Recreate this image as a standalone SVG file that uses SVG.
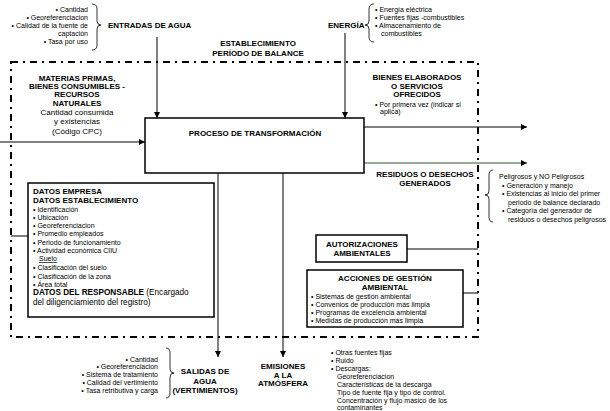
<svg xmlns="http://www.w3.org/2000/svg" width="610" height="411" viewBox="0 0 610 411">
<style>
text{font-family:"Liberation Sans",Arial,sans-serif;fill:#000}
.h{font-size:8px;font-weight:bold}
.n{font-size:8px}
.s{font-size:7px}
.c{text-anchor:middle}
.e{text-anchor:end}
.box{fill:#fff;stroke:#000;stroke-width:1.5}
.ln{fill:none;stroke:#000;stroke-width:1}
.br{fill:none;stroke:#000;stroke-width:0.8}
.border{fill:none;stroke:#000;stroke-width:2;stroke-dasharray:7 5 2 5}
</style>
<defs>
<marker id="ah" viewBox="0 0 10 10" refX="10" refY="5" markerWidth="6" markerHeight="6" orient="auto" markerUnits="userSpaceOnUse">
<path d="M0,0 L10,5 L0,10 Z" fill="#000"/>
</marker>
</defs>

<g id="border">
<rect class="border" x="11" y="62" width="467" height="275"/>
</g>

<g id="connectors">
<line class="ln" x1="157" y1="37" x2="157" y2="118" marker-end="url(#ah)"/>
<line class="ln" x1="345" y1="33" x2="345" y2="118" marker-end="url(#ah)"/>
<line class="ln" x1="0" y1="142" x2="145" y2="142" marker-end="url(#ah)"/>
<line class="ln" x1="364" y1="127" x2="527" y2="127" marker-end="url(#ah)"/>
<line class="ln" x1="364" y1="163" x2="527" y2="163" style="stroke:#2d5a27" marker-end="url(#ah)"/>
<line class="ln" x1="218" y1="173" x2="218" y2="357" marker-end="url(#ah)"/>
<line class="ln" x1="283" y1="173" x2="283" y2="357" marker-end="url(#ah)"/>
<line class="ln" x1="11" y1="236" x2="28" y2="236"/>
<line class="ln" x1="407" y1="249" x2="478" y2="249"/>
<line class="ln" x1="463" y1="293" x2="478" y2="293"/>
</g>

<g id="entradas">
<text class="s e" x="88" y="12">• Cantidad</text>
<text class="s e" x="88" y="20">• Georeferenciacion</text>
<text class="s e" x="88" y="28">• Calidad de la fuente de</text>
<text class="s e" x="88" y="36">captación</text>
<text class="s e" x="88" y="44">• Tasa por uso</text>
<path class="br" d="M92,4 Q97,4 97,9 L97,21 Q97,25 101,25 Q97,25 97,29 L97,45 Q97,50 92,50"/>
<text class="h" x="108" y="28">ENTRADAS DE AGUA</text>
</g>

<g id="energia">
<text class="h" x="328" y="28">ENERGÍA</text>
<path class="br" d="M374,4 Q369,4 369,9 L369,21 Q369,25 365,25 Q369,25 369,29 L369,37 Q369,42 374,42"/>
<text class="s" x="375" y="12">•  Energía eléctrica</text>
<text class="s" x="375" y="20">•  Fuentes fijas -combustibles</text>
<text class="s" x="375" y="28">•  Almacenamiento de</text>
<text class="s" x="381" y="36">combustibles</text>
</g>

<g id="establecimiento">
<text class="h c" x="258" y="46">ESTABLECIMIENTO</text>
<text class="h c" x="258" y="56">PERÍODO DE BALANCE</text>
</g>

<g id="materias">
<text class="h c" x="77" y="81">MATERIAS PRIMAS,</text>
<text class="h c" x="77" y="89">BIENES CONSUMIBLES -</text>
<text class="h c" x="77" y="97">RECURSOS</text>
<text class="h c" x="77" y="106">NATURALES</text>
<text class="n c" x="77" y="115">Cantidad consumida</text>
<text class="n c" x="77" y="124">y existencias</text>
<text class="n c" x="77" y="134">(Código CPC)</text>
</g>

<g id="proceso">
<rect class="box" x="145" y="118" width="219" height="55"/>
<text class="h c" x="255" y="136">PROCESO DE TRANSFORMACIÓN</text>
</g>

<g id="bienes">
<text class="h c" x="417" y="80">BIENES ELABORADOS</text>
<text class="h c" x="417" y="89">O SERVICIOS</text>
<text class="h c" x="417" y="97">OFRECIDOS</text>
<text class="s" x="375" y="107">•  Por primera vez (indicar si</text>
<text class="s" x="380" y="114">aplica)</text>
</g>

<g id="residuos">
<text class="h c" x="425" y="177">RESIDUOS O DESECHOS</text>
<text class="h c" x="425" y="186">GENERADOS</text>
<path class="br" d="M493,170 Q489,170 489,175 L489,191 Q489,195 485,195 Q489,195 489,199 L489,217 Q489,222 493,222"/>
<text class="s" x="499" y="179">Peligrosos y NO Peligrosos</text>
<text class="s" x="502" y="188">•  Generación y manejo</text>
<text class="s" x="502" y="196">•  Existencias  al  inicio  del  primer</text>
<text class="s" x="508" y="205">periodo de balance declarado</text>
<text class="s" x="502" y="213">•  Categoría   del   generador   de</text>
<text class="s" x="508" y="222">residuos o desechos peligrosos</text>
</g>

<g id="datos">
<rect class="box" x="28" y="183" width="186" height="134"/>
<text class="h" x="33" y="194">DATOS EMPRESA</text>
<text class="h" x="33" y="203">DATOS ESTABLECIMIENTO</text>
<text class="s" x="33" y="212">•  Identificación</text>
<text class="s" x="33" y="220">•  Ubicación</text>
<text class="s" x="33" y="228">•  Georeferenciacion</text>
<text class="s" x="33" y="236">•  Promedio empleados</text>
<text class="s" x="33" y="245">•  Periodo de funcionamiento</text>
<text class="s" x="33" y="253">•  Actividad económica CIIU</text>
<text class="s" x="39" y="261" text-decoration="underline">Suelo</text>
<text class="s" x="33" y="270">•  Clasificación del suelo</text>
<text class="s" x="33" y="279">•  Clasificación de la zona</text>
<text class="s" x="33" y="287">•  Área total</text>
<text x="33" y="295" style="font-size:8.2px"><tspan font-weight="bold">DATOS DEL RESPONSABLE</tspan> (Encargado</text>
<text x="33" y="305" style="font-size:8.2px">del diligenciamiento del registro)</text>
</g>

<g id="autorizaciones">
<rect class="box" x="316" y="235" width="91" height="27"/>
<text class="h c" x="362" y="247">AUTORIZACIONES</text>
<text class="h c" x="362" y="256">AMBIENTALES</text>
</g>

<g id="acciones">
<rect class="box" x="307" y="270" width="156" height="57"/>
<text class="h c" x="385" y="281">ACCIONES DE GESTIÓN</text>
<text class="h c" x="385" y="290">AMBIENTAL</text>
<text class="s" x="311" y="299">•  Sistemas de gestión ambiental</text>
<text class="s" x="311" y="307">•  Convenios de producción más limpia</text>
<text class="s" x="311" y="315">•  Programas de excelencia ambiental</text>
<text class="s" x="311" y="323">•  Medidas de producción  más limpia</text>
</g>

<g id="salidas">
<text class="s e" x="158" y="362">• Cantidad</text>
<text class="s e" x="158" y="369">• Georeferenciacion</text>
<text class="s e" x="158" y="377">• Sistema de tratamiento</text>
<text class="s e" x="158" y="385">• Calidad del vertimiento</text>
<text class="s e" x="158" y="393">• Tasa retributiva y carga</text>
<path class="br" d="M166,348 Q170,348 170,353 L170,369 Q170,373 174,373 Q170,373 170,377 L170,393 Q170,398 166,398"/>
<text class="h c" x="205" y="374">SALIDAS DE</text>
<text class="h c" x="205" y="384">AGUA</text>
<text class="h c" x="205" y="393">(VERTIMIENTOS)</text>
</g>

<g id="emisiones">
<text class="h c" x="283" y="369">EMISIONES</text>
<text class="h c" x="283" y="378">A LA</text>
<text class="h c" x="283" y="386">ATMÓSFERA</text>
<text class="s" x="331" y="355">•  Otras fuentes fijas</text>
<text class="s" x="331" y="363">•  Ruido</text>
<text class="s" x="331" y="371">•  Descargas:</text>
<text class="s" x="337" y="379">Georeferenciacion</text>
<text class="s" x="337" y="387">Características de la descarga</text>
<text class="s" x="337" y="395">Tipo de fuente fija y tipo de control.</text>
<text class="s" x="337" y="403">Concentración y flujo másico de los</text>
<text class="s" x="337" y="410">contaminantes</text>
</g>
</svg>
